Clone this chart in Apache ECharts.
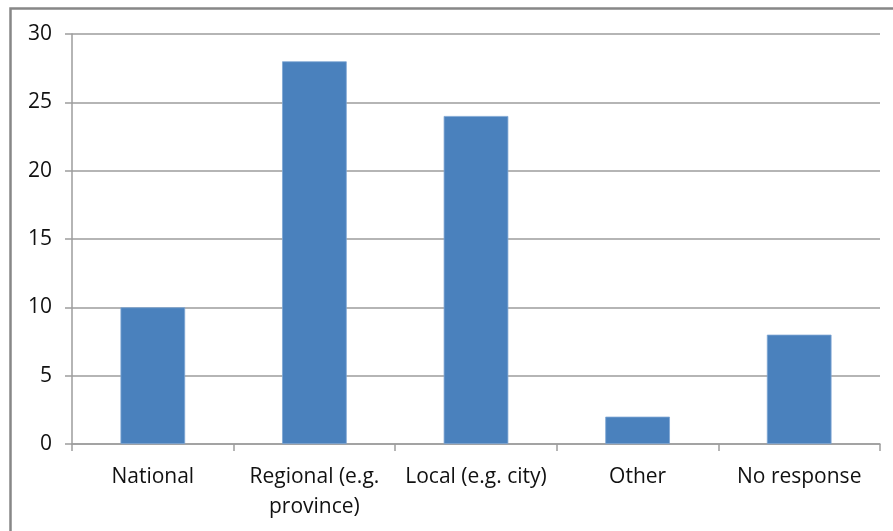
<!DOCTYPE html>
<html>
<head>
<meta charset="utf-8">
<script src="https://cdn.jsdelivr.net/npm/echarts@6/dist/echarts.min.js"></script>
<style>
  html, body { margin: 0; padding: 0; background: #ffffff; }
  #chart { width: 893px; height: 531px; }
</style>
</head>
<body>
<div id="chart"></div>
<script>
// Survey responses by level of government
const categories = ['National', 'Regional (e.g.\nprovince)', 'Local (e.g. city)', 'Other', 'No response'];
const counts = [10, 28, 24, 2, 8];
const yTicks = { min: 0, max: 30, step: 5 };

const chart = echarts.init(document.getElementById('chart'), null, { renderer: 'canvas' });

const fontFamily = '"Open Sans", "Noto Sans", sans-serif';

chart.setOption({
  backgroundColor: '#ffffff',
  animation: false,
  graphic: [{
    type: 'rect',
    left: 8,
    top: 6,
    shape: { x: 0, y: 0, width: 900, height: 540 },
    style: { fill: 'none', stroke: '#878787', lineWidth: 2.5 },
    silent: true
  }],
  grid: { left: 72, right: 13, top: 34, bottom: 87, containLabel: false },
  xAxis: {
    type: 'category',
    data: categories,
    axisLine: { show: true, lineStyle: { color: '#9d9d9d', width: 1.5 } },
    axisTick: { show: true, length: 7, lineStyle: { color: '#9d9d9d', width: 1.5 } },
    axisLabel: {
      color: '#111111',
      fontFamily: fontFamily,
      fontSize: 21,
      margin: 18,
      lineHeight: 30,
      interval: 0
    }
  },
  yAxis: {
    type: 'value',
    min: yTicks.min,
    max: yTicks.max,
    interval: yTicks.step,
    axisLine: { show: true, lineStyle: { color: '#9d9d9d', width: 1.5 } },
    axisTick: { show: true, length: 7, lineStyle: { color: '#9d9d9d', width: 1.5 } },
    splitLine: { show: true, lineStyle: { color: '#9d9d9d', width: 1.5 } },
    axisLabel: {
      color: '#111111',
      fontFamily: fontFamily,
      fontSize: 21,
      margin: 20
    }
  },
  series: [{
    type: 'bar',
    data: counts,
    barWidth: '40%',
    itemStyle: { color: '#4a81bd', borderColor: '#7ea6d3', borderWidth: 0.8 }
  }]
});
</script>
</body>
</html>
